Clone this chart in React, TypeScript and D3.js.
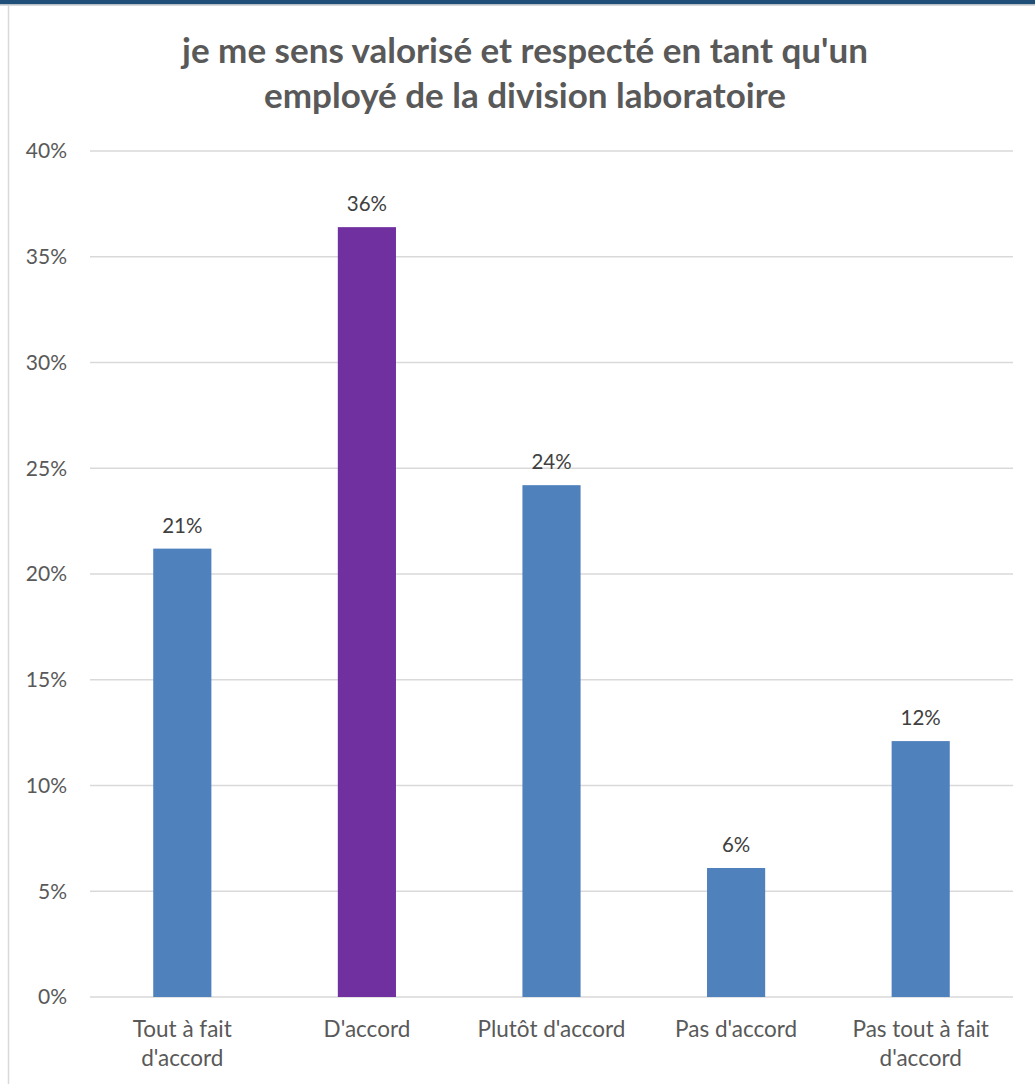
import React from "react";
import * as d3 from "d3";

const categories: string[][] = [
  ["Tout à fait", "d'accord"],
  ["D'accord"],
  ["Plutôt d'accord"],
  ["Pas d'accord"],
  ["Pas tout à fait", "d'accord"],
];
const values: number[] = [0.212, 0.364, 0.242, 0.061, 0.121];
const labels: string[] = ["21%", "36%", "24%", "6%", "12%"];
const colors: string[] = ["#4f81bd", "#7030a0", "#4f81bd", "#4f81bd", "#4f81bd"];
const yTicks: number[] = [0, 0.05, 0.1, 0.15, 0.2, 0.25, 0.3, 0.35, 0.4];
const titleLines: string[] = [
  "je me sens valorisé et respecté en tant qu'un",
  "employé de la division laboratoire",
];

const W = 1035;
const H = 1084;
const FONT = "Lato, 'Open Sans', sans-serif";

export default function App() {
  const x = d3
    .scaleBand<number>()
    .domain(d3.range(values.length))
    .range([90, 1013])
    .paddingInner(0.685)
    .paddingOuter(0.3425);
  const y = d3.scaleLinear().domain([0, 0.4]).range([997, 151]);
  const fmt = d3.format(".0%");

  return (
    <svg
      width={W}
      height={H}
      style={{ position: "absolute", left: 0, top: 0, background: "#fff" }}
      fontFamily={FONT}
    >
      <rect x={0} y={0} width={W} height={H} fill="#fff" />
      <rect x={0} y={0} width={W} height={4.5} fill="#1f4e79" />
      <rect x={0} y={4.5} width={W} height={1.5} fill="#d9d9d9" />
      <line x1={8.5} x2={8.5} y1={6} y2={H} stroke="#d9d9d9" strokeWidth={1.5} />

      {titleLines.map((t, i) => (
        <text
          key={i}
          x={525}
          y={63 + i * 45}
          textAnchor="middle"
          fontSize={35}
          fontWeight="bold"
          fill="#595959"
        >
          {t}
        </text>
      ))}

      {yTicks.map((t) => (
        <g key={t}>
          <line x1={90} x2={1013} y1={y(t)} y2={y(t)} stroke="#d9d9d9" strokeWidth={1.5} />
          <text
            x={67}
            y={y(t)}
            dy="0.35em"
            textAnchor="end"
            fontSize={21}
            fill="#595959"
          >
            {fmt(t)}
          </text>
        </g>
      ))}

      {values.map((v, i) => (
        <g key={i}>
          <rect
            x={x(i)}
            y={y(v)}
            width={x.bandwidth()}
            height={y(0) - y(v)}
            fill={colors[i]}
          />
          <text
            x={(x(i) as number) + x.bandwidth() / 2}
            y={y(v) - 16}
            textAnchor="middle"
            fontSize={20.5}
            fill="#404040"
          >
            {labels[i]}
          </text>
          {categories[i].map((line, j) => (
            <text
              key={j}
              x={(x(i) as number) + x.bandwidth() / 2}
              y={1037 + j * 29}
              textAnchor="middle"
              fontSize={22.5}
              fill="#595959"
            >
              {line}
            </text>
          ))}
        </g>
      ))}
    </svg>
  );
}
